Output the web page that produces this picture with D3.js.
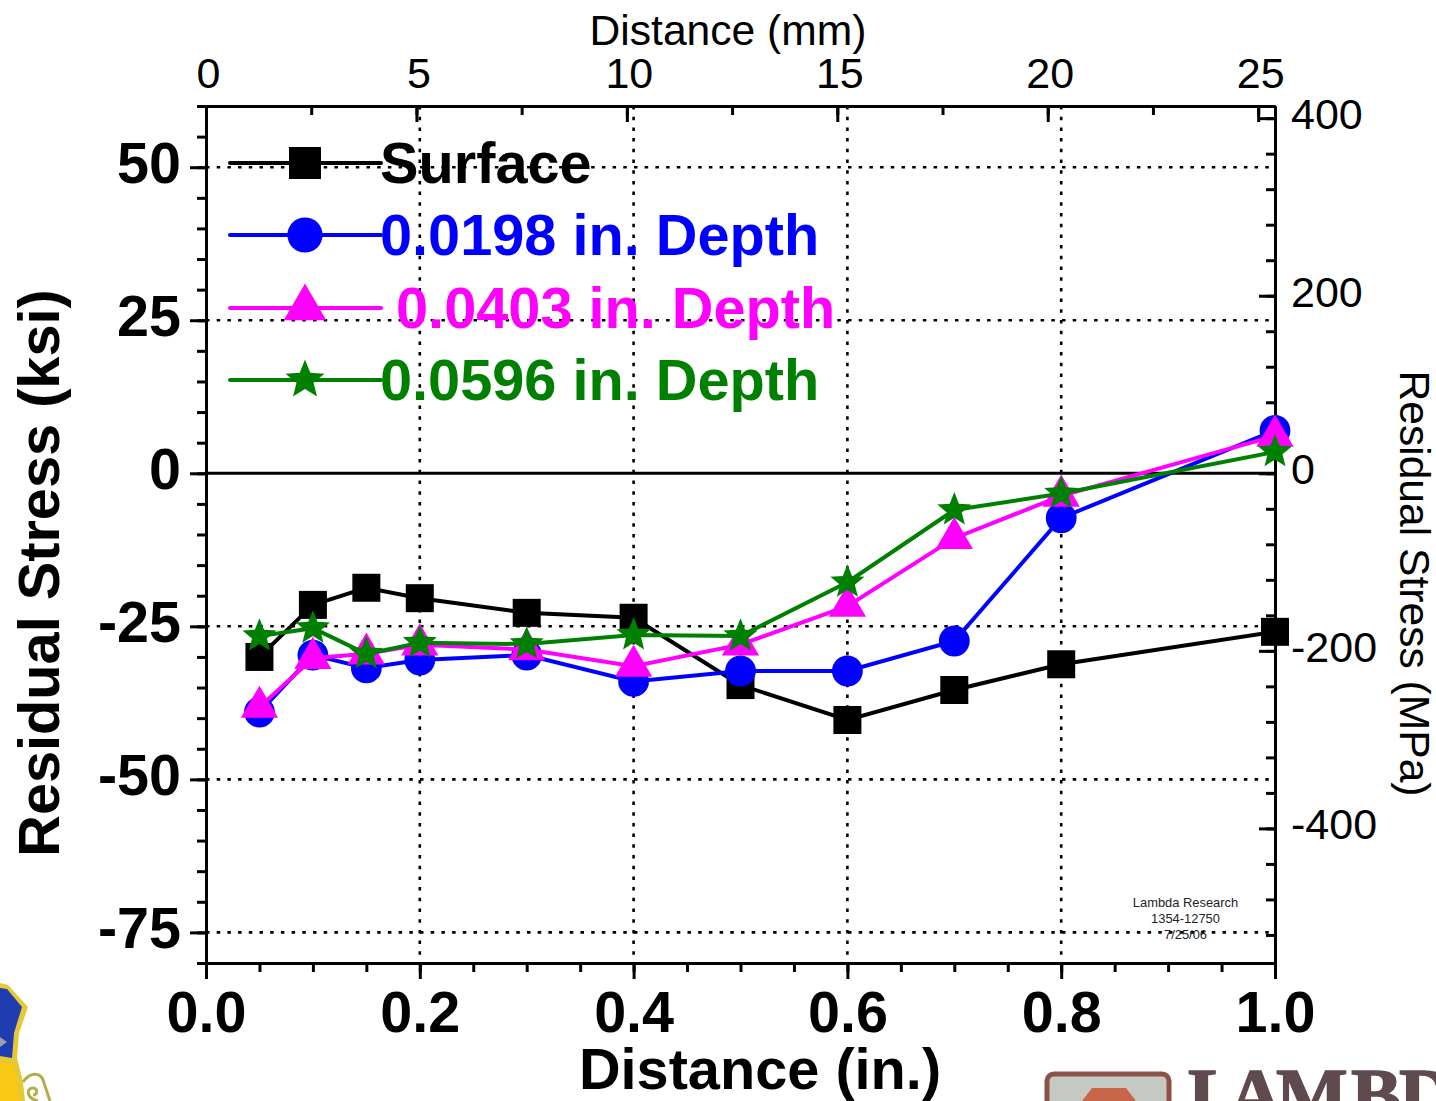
<!DOCTYPE html>
<html>
<head>
<meta charset="utf-8">
<script src="https://cdnjs.cloudflare.com/ajax/libs/d3/7.8.5/d3.min.js"></script>
<style>
  html, body { margin: 0; padding: 0; background: #fff; }
  text { font-family: "Liberation Sans", Arial, sans-serif; }
</style>
</head>
<body>
<div id="chart"></div>
<script>
// Values
const distanceIn = [0.05, 0.1, 0.15, 0.2, 0.3, 0.4, 0.5, 0.6, 0.7, 0.8, 1.0];
const surface = [-30, -21.5, -18.7, -20.4, -22.8, -23.6, -34.6, -40.3, -35.4, -31.2, -25.9];
const depth0198 = [-39, -29.7, -31.8, -30.5, -29.7, -34, -32.3, -32.3, -27.4, -7.3, 7];
const depth0403 = [-38.2, -30.2, -29.5, -28, -28.8, -31.5, -28, -21.7, -10.6, -3.7, 6.1];
const depth0596 = [-26.6, -25.3, -29.5, -27.7, -27.9, -26.4, -26.6, -17.8, -6, -3.3, 3.5];

const seriesNames = ['Surface', '0.0198 in. Depth', ' 0.0403 in. Depth', '0.0596 in. Depth'];
const seriesColors = ['#000000', '#0000ff', '#ff00ff', '#008000'];
const seriesShapes = ['square', 'circle', 'triangle', 'star'];
const seriesValues = [surface, depth0198, depth0403, depth0596];

const ksiTicks = [-75, -50, -25, 0, 25, 50];
const ksiMinor = d3.range(-80, 61, 5);
const mpaTicks = [-400, -200, 0, 200, 400];
const mpaMinor = d3.range(-520, 401, 40);
const inTicks = [0, 0.2, 0.4, 0.6, 0.8, 1];
const inMinor = d3.range(0, 1.01, 0.05);
const mmTicks = [0, 5, 10, 15, 20, 25];
const mmMinor = d3.range(0, 25.1, 2.5);

const width = 1436, height = 1101;
const left = 206, right = 1275, top_ = 106, bottom = 963;

const x = d3.scaleLinear().domain([0, 1]).range([left, right]);
const xMm = d3.scaleLinear().domain([0, 25.4]).range([left, right]);
const y = d3.scaleLinear().domain([-80, 60]).range([bottom, top_]);
const yMpa = d3.scaleLinear().domain([-80 * 6.895, 60 * 6.895]).range([bottom, top_]);

const svg = d3.select('#chart').append('svg')
  .attr('width', width)
  .attr('height', height)
  .style('display', 'block');

// Dotted grid
const grid = svg.append('g').attr('stroke', '#000').attr('stroke-width', 2.6).attr('stroke-dasharray', '3.5 7.2');
grid.selectAll('.gy').data(ksiTicks.filter(d => d !== 0)).enter().append('line')
  .attr('x1', left).attr('x2', right).attr('y1', d => y(d)).attr('y2', d => y(d));
grid.selectAll('.gx').data(inTicks.slice(1, 5)).enter().append('line')
  .attr('x1', d => x(d)).attr('x2', d => x(d)).attr('y1', top_).attr('y2', bottom);

// Zero line
svg.append('line').attr('x1', left).attr('x2', right).attr('y1', y(0)).attr('y2', y(0))
  .attr('stroke', '#000').attr('stroke-width', 3);

// Axes, built from d3-axis then restyled
function styleAxis(g, size) {
  g.select('.domain').attr('stroke-width', 3).attr('stroke', '#000');
  g.selectAll('.tick line').attr('stroke-width', 3).attr('stroke', '#000');
  g.selectAll('text').attr('font-family', '"Liberation Sans", Arial, sans-serif').attr('font-size', size).attr('fill', '#000');
}

// bottom
svg.append('g').attr('transform', `translate(0,${bottom})`)
  .call(d3.axisBottom(x).tickValues(inMinor).tickSize(9).tickSizeOuter(0).tickFormat(''))
  .call(g => styleAxis(g, 0));
svg.append('g').attr('transform', `translate(0,${bottom})`)
  .call(d3.axisBottom(x).tickValues(inTicks).tickSize(16).tickSizeOuter(0).tickPadding(12).tickFormat(d3.format('.1f')))
  .call(g => styleAxis(g, 57.5))
  .call(g => g.selectAll('text').attr('font-weight', 'bold'));

// left
svg.append('g').attr('transform', `translate(${left},0)`)
  .call(d3.axisLeft(y).tickValues(ksiMinor).tickSize(9).tickSizeOuter(0).tickFormat(''))
  .call(g => styleAxis(g, 0));
svg.append('g').attr('transform', `translate(${left},0)`)
  .call(d3.axisLeft(y).tickValues(ksiTicks).tickSize(16).tickSizeOuter(0).tickPadding(9).tickFormat(d => String(d)))
  .call(g => styleAxis(g, 57.5))
  .call(g => g.selectAll('text').attr('font-weight', 'bold').attr('dy', '0.26em'));

// top
svg.append('g').attr('transform', `translate(0,${top_})`)
  .call(d3.axisTop(xMm).tickValues(mmMinor).tickSize(-9).tickSizeOuter(0).tickFormat(''))
  .call(g => styleAxis(g, 0));
svg.append('g').attr('transform', `translate(0,${top_})`)
  .call(d3.axisTop(xMm).tickValues(mmTicks).tickSize(-16).tickSizeOuter(0).tickPadding(18).tickFormat(d => String(d)))
  .call(g => styleAxis(g, 43))
  .call(g => g.selectAll('text').attr('dx', 2));

// right
svg.append('g').attr('transform', `translate(${right},0)`)
  .call(d3.axisRight(yMpa).tickValues(mpaMinor).tickSize(-9).tickSizeOuter(0).tickFormat(''))
  .call(g => styleAxis(g, 0));
svg.append('g').attr('transform', `translate(${right},0)`)
  .call(d3.axisRight(yMpa).tickValues(mpaTicks).tickSize(-16).tickSizeOuter(0).tickPadding(16).tickFormat(d => String(d)))
  .call(g => styleAxis(g, 43))
  .call(g => g.selectAll('text').attr('dy', '0.24em'));

// Axis titles
svg.append('text').attr('x', 728).attr('y', 45).attr('text-anchor', 'middle').attr('font-size', 42.6).text('Distance (mm)');
svg.append('text').attr('x', 760).attr('y', 1089).attr('text-anchor', 'middle').attr('font-size', 57.7).attr('font-weight', 'bold').text('Distance (in.)');
svg.append('text').attr('transform', 'translate(59,573) rotate(-90)').attr('text-anchor', 'middle').attr('font-size', 57.7).attr('font-weight', 'bold').text('Residual Stress (ksi)');
svg.append('text').attr('transform', 'translate(1400,583.5) rotate(90)').attr('text-anchor', 'middle').attr('font-size', 42.6).text('Residual Stress (MPa)');

// Marker shapes
function marker(sel, shape, color, s) {
  if (shape === 'square') {
    sel.append('rect').attr('x', -s).attr('y', -s).attr('width', 2 * s).attr('height', 2 * s).attr('fill', color);
  } else if (shape === 'circle') {
    sel.append('circle').attr('r', s * 1.1).attr('fill', color);
  } else if (shape === 'triangle') {
    const h = s * 2.3, w = s * 1.33;
    sel.append('path').attr('d', `M0,${-h * 2 / 3}L${w},${h / 3}L${-w},${h / 3}Z`).attr('fill', color);
  } else {
    const star = d3.range(10).map(i => {
      const r = i % 2 ? s * 0.56 : s * 1.28;
      const a = i * Math.PI / 5;
      return [r * Math.sin(a), -r * Math.cos(a)];
    });
    sel.append('path').attr('d', d3.line()(star) + 'Z').attr('fill', color);
  }
}

// Series
const lineGen = d3.line().x(d => x(d[0])).y(d => y(d[1]));
seriesValues.forEach((vals, i) => {
  const pts = distanceIn.map((d, j) => [d, vals[j]]);
  svg.append('path').datum(pts).attr('d', lineGen).attr('fill', 'none')
    .attr('stroke', seriesColors[i]).attr('stroke-width', 4);
  pts.forEach(p => {
    const g = svg.append('g').attr('transform', `translate(${x(p[0])},${y(p[1])})`);
    marker(g, seriesShapes[i], seriesColors[i], 14);
  });
});

// Legend
const legendY = [163, 235, 308, 380];
seriesNames.forEach((name, i) => {
  svg.append('line').attr('x1', 230).attr('x2', 381).attr('y1', legendY[i]).attr('y2', legendY[i])
    .attr('stroke', seriesColors[i]).attr('stroke-width', 4).attr('stroke-linecap', 'round');
  const g = svg.append('g').attr('transform', `translate(305,${legendY[i]})`);
  marker(g, seriesShapes[i], seriesColors[i], 16);
  svg.append('text').attr('x', 380).attr('y', legendY[i] + 20).attr('font-size', 57.7).attr('font-weight', 'bold')
    .attr('fill', seriesColors[i]).style('white-space', 'pre').text(name);
});

// Stamp
const stamp = ['Lambda Research', '1354-12750', '7/25/06'];
stamp.forEach((t, i) => {
  svg.append('text').attr('x', 1185.5).attr('y', 907 + i * 16).attr('text-anchor', 'middle')
    .attr('font-size', 12.9).attr('fill', '#222').text(t);
});

// Crest, cut off by the lower left corner
const crest = svg.append('g');
crest.append('path').attr('d', 'M0,983L8,985L28,1007L19,1033L17,1058L23,1082L25,1101L0,1101Z').attr('fill', '#e6c832');
crest.append('path').attr('d', 'M0,988L7,989L22,1007L14,1033L12,1058L0,1056Z').attr('fill', '#1f3cb0');
crest.append('path').attr('d', 'M0,1037L7,1042L0,1047Z').attr('fill', '#9aa0a8');
crest.append('path').attr('d', 'M0,1062L13,1064L17,1082L19,1101L0,1101Z').attr('fill', '#f8c814');
crest.append('path').attr('d', 'M23,1082C30,1072 40,1072 43,1080L50,1101M38,1101C26,1098 26,1088 33,1088C38,1088 38,1095 33,1095')
  .attr('fill', 'none').attr('stroke', '#b4ae48').attr('stroke-width', 3);

// Lambda logo, cut off by the lower right corner
const logo = svg.append('g');
logo.append('rect').attr('x', 1047).attr('y', 1074).attr('width', 122).attr('height', 60).attr('rx', 7)
  .attr('fill', '#c6c8c4').attr('stroke', '#8c5248').attr('stroke-width', 5);
logo.append('path').attr('d', 'M1092,1088L1126,1088L1136,1101L1082,1101Z').attr('fill', '#c8664a');
logo.append('text').attr('x', '1188 1228 1276 1351 1399').attr('y', 1121)
  .attr('font-size', 76).attr('font-weight', 'bold').attr('fill', '#5f4b4e')
  .attr('stroke', '#5f4b4e').attr('stroke-width', 1.5)
  .style('font-family', '"Liberation Serif", serif').text('LAMBD');
</script>
</body>
</html>
